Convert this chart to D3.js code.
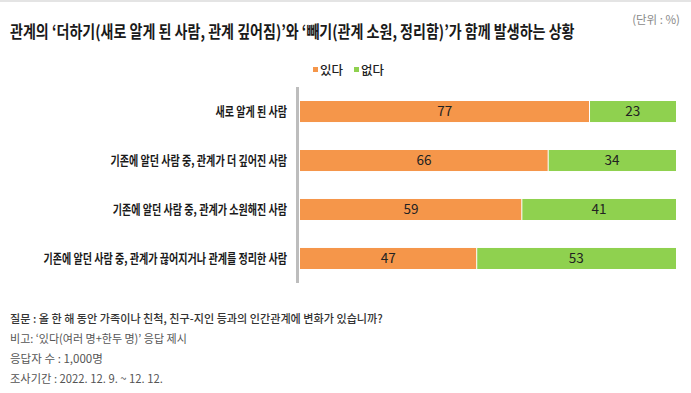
<!DOCTYPE html>
<html><head><meta charset="utf-8">
<script src="https://cdn.jsdelivr.net/npm/d3@7"></script>
<style>
html,body{margin:0;padding:0;background:#fff;}
text{font-family:"Noto Sans CJK KR","Noto Sans",sans-serif;}
</style></head>
<body><svg id="c" width="691" height="393"></svg>
<script>
const categories = ["새로 알게 된 사람","기존에 알던 사람 중, 관계가 더 깊어진 사람","기존에 알던 사람 중, 관계가 소원해진 사람","기존에 알던 사람 중, 관계가 끊어지거나 관계를 정리한 사람"];
const seriesNames = ["있다","없다"];
const yesValues = [77,66,59,47];
const noValues = [23,34,41,53];
const colors = ["#f5964a","#8fd14f"];
const title = "관계의 ‘더하기(새로 알게 된 사람, 관계 깊어짐)’와 ‘빼기(관계 소원, 정리함)’가 함께 발생하는 상황";
const unitLabel = "(단위 : %)";
const notes = ["질문 : 올 한 해 동안 가족이나 친척, 친구-지인 등과의 인간관계에 변화가 있습니까?","비고: ‘있다(여러 명+한두 명)’ 응답 제시","응답자 수 : 1,000명","조사기간 : 2022. 12. 9. ~ 12. 12."];

const svg = d3.select("#c");
svg.append("rect").attr("x",0).attr("y",0).attr("width",691).attr("height",2).attr("fill","#e4e4e4");

// helper: place text at (x,y) and squeeze horizontally to target width via transform
function placeText(parent, xPos, yPos, str, opts, targetW){
  const g = parent.append("g").attr("transform",`translate(${xPos},${yPos})`);
  const t = g.append("text").attr("x",0).attr("y",0).text(str);
  Object.entries(opts).forEach(([k,v])=>t.attr(k,v));
  const n = t.node().getComputedTextLength();
  const s = targetW ? targetW/n : 1;
  g.attr("transform",`translate(${xPos},${yPos}) scale(${s},1)`);
  return t;
}

placeText(svg, 10, 38, title, {"font-size":17,"font-weight":700,"fill":"#1a1a1a"}, 565);
svg.append("text").attr("x",680).attr("y",24).attr("text-anchor","end").attr("font-size",11.5).attr("fill","#8a8a8a").text(unitLabel);

// legend
const lx = [313,354];
seriesNames.forEach((s,i)=>{
  svg.append("rect").attr("x",lx[i]).attr("y",67).attr("width",5).attr("height",5).attr("fill",colors[i]);
  svg.append("text").attr("x",lx[i]+7).attr("y",74.5).attr("font-size",12.5).attr("font-weight",500).attr("fill","#222").text(s);
});

const x = d3.scaleLinear().domain([0,100]).range([300,676]);
const y = d3.scaleBand().domain(categories).range([87,283]).paddingInner(0.571).paddingOuter(0.286);

svg.append("line").attr("x1",297.5).attr("x2",297.5).attr("y1",87).attr("y2",283).attr("stroke","#bdbdbd").attr("stroke-width",3);

categories.forEach((c,i)=>{
  const g = svg.append("g").attr("class","row");
  const segs = [[0,yesValues[i]],[yesValues[i],yesValues[i]+noValues[i]]];
  const vals = [yesValues[i],noValues[i]];
  segs.forEach((s,k)=>{
    g.append("rect").attr("x",x(s[0])).attr("y",y(c)).attr("width",x(s[1])-x(s[0])).attr("height",y.bandwidth()).attr("fill",colors[k]);
    g.append("text").attr("x",(x(s[0])+x(s[1]))/2).attr("y",y(c)+y.bandwidth()/2+4.8).attr("text-anchor","middle").attr("font-size",13.5).attr("fill","#222").text(vals[k]);
  });
  g.append("line").attr("x1",x(yesValues[i])).attr("x2",x(yesValues[i])).attr("y1",y(c)).attr("y2",y(c)+y.bandwidth()).attr("stroke","#fff").attr("stroke-width",1);
  const lg = g.append("g");
  const lt = lg.append("text").attr("x",0).attr("y",0).attr("text-anchor","end").attr("font-size",13).attr("font-weight",600).attr("fill","#1a1a1a").text(c);
  lg.attr("transform",`translate(287,${y(c)+y.bandwidth()/2+4.5}) scale(0.775,1)`);
});

const nw = [373,177,93,153];
notes.forEach((n,i)=>{
  placeText(svg, 10, 323+i*20, n, {"font-size":11.5,"fill": i===0?"#333":"#555","font-weight": i===0?500:400}, nw[i]);
});
</script></body></html>
